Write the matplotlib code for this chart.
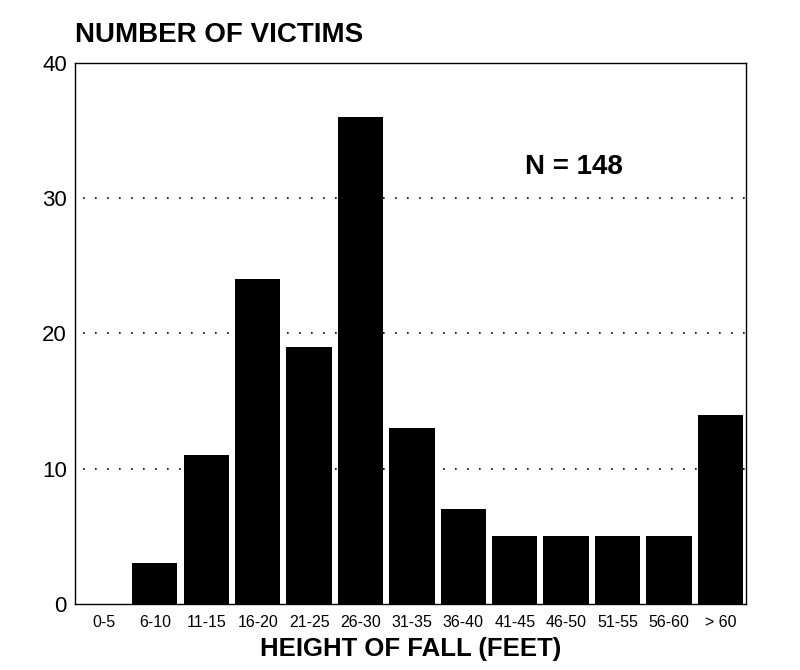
import matplotlib
matplotlib.use("Agg")
import matplotlib.pyplot as plt
import numpy as np

categories = ["0-5", "6-10", "11-15", "16-20", "21-25", "26-30", "31-35",
              "36-40", "41-45", "46-50", "51-55", "56-60", "> 60"]
victims = [0, 3, 11, 24, 19, 36, 13, 7, 5, 5, 5, 5, 14]
y_ticks = [0, 10, 20, 30, 40]

plt.rcParams['font.family'] = ['Liberation Sans', 'DejaVu Sans']

fig = plt.figure(figsize=(8, 6.7), dpi=100)
ax = fig.add_axes([0.094, 0.0985, 0.8385, 0.8075])

x = np.arange(len(categories))
for yv in y_ticks[1:-1]:
    ax.axhline(yv, xmin=0.012, xmax=1.0, color="black", linestyle=(0, (1, 6.2)),
               linewidth=1.2, zorder=1)
ax.bar(x, victims, width=0.88, color="black", zorder=2)

ax.set_xlim(-0.55, 12.5)
ax.set_ylim(0, 40)
ax.set_xticks(x)
ax.set_xticklabels(categories, fontsize=11.5)
ax.set_yticks(y_ticks)
ax.set_yticklabels([str(v) for v in y_ticks], fontsize=16)
ax.tick_params(axis="both", length=0)
ax.tick_params(axis="x", pad=8)
ax.tick_params(axis="y", pad=6)
for s in ax.spines.values():
    s.set_linewidth(1.0)
    s.set_color("black")

ax.set_xlabel("HEIGHT OF FALL (FEET)", fontsize=18.5, fontweight="bold", labelpad=5)
fig.text(0.094, 0.948, "NUMBER OF VICTIMS", fontsize=20, fontweight="bold",
         ha="left", va="center")
ax.text(8.2, 32.3, "N = 148", fontsize=20, fontweight="bold", ha="left", va="center")

fig.savefig("out.png", dpi=100)
